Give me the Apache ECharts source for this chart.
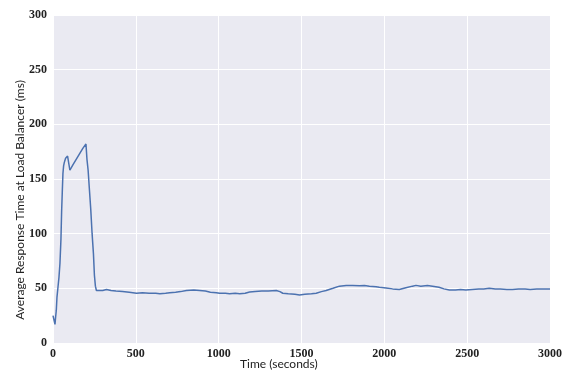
<!DOCTYPE html>
<html>
<head>
<meta charset="utf-8">
<script src="https://cdn.jsdelivr.net/npm/echarts@6/dist/echarts.min.js"></script>
<style>html,body{margin:0;padding:0;background:#fff;}#c{width:569px;height:372px;}</style>
</head>
<body>
<div id="c"></div>
<script>
var times = [0,8,12,16,20,24,30,36,42,48,52,56,60,64,68,76,88,98,102,120,140,160,180,199,205,212,220,228,236,244,250,256,262,268,280,300,323,350,380,420,460,504,540,580,620,645,680,705,740,770,805,850,885,920,950,986,1006,1040,1066,1100,1127,1160,1187,1220,1260,1300,1348,1370,1387,1420,1460,1488,1520,1560,1589,1620,1649,1690,1729,1770,1809,1850,1880,1910,1950,1970,2010,2050,2090,2130,2170,2191,2220,2260,2291,2330,2360,2392,2430,2460,2492,2530,2570,2600,2633,2670,2700,2740,2773,2810,2850,2880,2920,2950,2974,3000];
var responseMs = [25,26,17,24,30,42,51,60,73,95,120,138,155,162,165,169,171,172,158,163,168,173,178,182,168,158,140,122,100,82,62,52,48,47,48,48,49,48,47.5,47,46.5,45.5,46,45.5,45.5,45,45.5,46,46.5,47,48,48.5,48,47.5,46.5,46,45.5,45.5,45,45.5,45,45.5,46.6,47,47.5,47.5,48,47,45.5,45,44.5,44,44.5,45,45.5,47,48,50,52,52.5,52.7,52.3,52.5,52,51.5,51,50.3,49.5,49,50.5,52,52.7,52,52.5,52,51,49.5,48.5,48.5,49,48.5,49,49.5,49.5,50,49.5,49.5,49,49,49.5,49.5,49,49.5,49.5,49.5,49.5];
var xTicks = [0,500,1000,1500,2000,2500,3000];
var yTicks = [0,50,100,150,200,250,300];

var data = times.map(function(t,i){return [t,responseMs[i]];});
var chart = echarts.init(document.getElementById('c'));
var tickFont = {fontFamily:'Liberation Serif',fontWeight:'bold',fontSize:12,color:'#222',formatter:function(v){return String(v);}};
chart.setOption({
  animation:false,
  backgroundColor:'#ffffff',
  grid:{left:53,right:19,top:15,bottom:29,show:true,backgroundColor:'#EAEAF2',borderWidth:0},
  xAxis:{type:'value',min:xTicks[0],max:xTicks[xTicks.length-1],interval:500,
    axisLine:{show:false},axisTick:{show:false},
    splitLine:{show:true,lineStyle:{color:'#ffffff',width:1}},
    axisLabel:Object.assign({margin:5},tickFont)},
  yAxis:{type:'value',min:yTicks[0],max:yTicks[yTicks.length-1],interval:50,
    axisLine:{show:false},axisTick:{show:false},
    splitLine:{show:true,lineStyle:{color:'#ffffff',width:1}},
    axisLabel:Object.assign({margin:6},tickFont)},
  graphic:[
    {type:'text',left:240,top:358,style:{text:'Time (seconds)',fontFamily:'Lato',fontSize:12,fill:'#222'}},
    {type:'text',x:20,y:200,rotation:Math.PI/2,style:{text:'Average Response Time at Load Balancer (ms)',fontFamily:'Lato',fontSize:12,fill:'#222',align:'center',verticalAlign:'middle'}}
  ],
  series:[{type:'line',data:data,showSymbol:false,lineStyle:{color:'#4C72B0',width:1.5},itemStyle:{color:'#4C72B0'}}]
});
</script>
</body>
</html>
